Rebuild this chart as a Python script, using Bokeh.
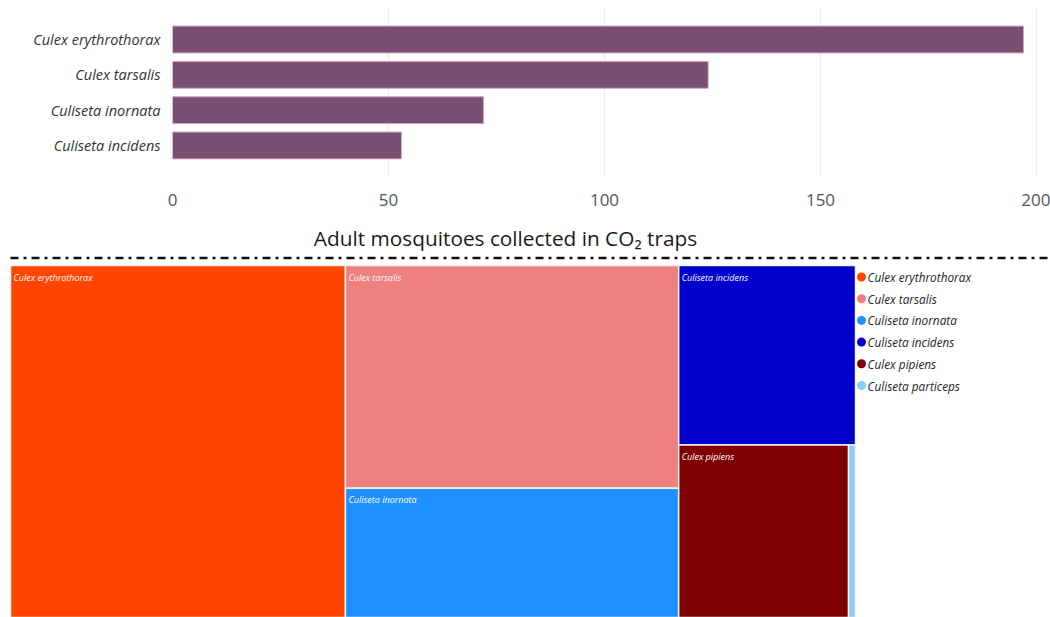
from bokeh.plotting import figure
from bokeh.models import FactorRange, Range1d, FixedTicker
from bokeh.layouts import column
from bokeh.embed import file_html
from bokeh.resources import INLINE
from bokeh.core.properties import value

# ---------------- data ----------------
bar_species = ["Culex erythrothorax", "Culex tarsalis", "Culiseta inornata", "Culiseta incidens"]
bar_counts = [197, 124, 72, 53]
x_ticks = [0, 50, 100, 150, 200]
title_text = "Adult mosquitoes collected in CO\u2082 traps"

tree_species = ["Culex erythrothorax", "Culex tarsalis", "Culiseta inornata",
                "Culiseta incidens", "Culex pipiens", "Culiseta particeps"]
tree_counts = [197, 124, 72, 53, 49, 2]
tree_colors = ["#FF4500", "#F08080", "#1E90FF", "#0000CD", "#800000", "#87CEFA"]
tree_nesting = [[0], [1, 2], [3, [4, 5]]]

FONT = value("Open Sans")

# ---------------- bar chart ----------------
p1 = figure(width=1050, height=215, output_backend="svg", toolbar_location=None,
            y_range=FactorRange(factors=bar_species[::-1], range_padding=0.35,
                                range_padding_units="absolute"),
            x_range=Range1d(0, 203.24),
            min_border_left=172, min_border_right=0, min_border_top=9, min_border_bottom=40)
p1.frame_align = False
p1.hbar(y=bar_species, right=bar_counts, height=0.76,
        fill_color="#7B4F71", line_color="#CFA9C6", line_width=1)
p1.outline_line_color = None
p1.ygrid.grid_line_color = None
p1.xgrid.grid_line_color = "#EDEBE9"
p1.xaxis.ticker = FixedTicker(ticks=x_ticks)
for ax in (p1.xaxis, p1.yaxis):
    ax.axis_line_color = None
    ax.major_tick_line_color = None
    ax.minor_tick_line_color = None
p1.xaxis.major_label_text_font = "Open Sans"
p1.xaxis.major_label_text_font_size = "17px"
p1.xaxis.major_label_text_color = "#555555"
p1.xaxis.major_label_standoff = 12
p1.yaxis.major_label_text_font = "Open Sans"
p1.yaxis.major_label_text_font_style = "italic"
p1.yaxis.major_label_text_font_size = "14.5px"
p1.yaxis.major_label_text_color = "#333333"
p1.yaxis.major_label_standoff = 6

# ---------------- title, separator, treemap ----------------
p2 = figure(width=1050, height=402, output_backend="svg", toolbar_location=None,
            x_range=Range1d(0, 1050), y_range=Range1d(617, 215),
            x_axis_type=None, y_axis_type=None,
            min_border_left=0, min_border_right=0, min_border_top=0, min_border_bottom=0)
p2.frame_align = False
p2.outline_line_color = None
p2.xgrid.grid_line_color = None
p2.ygrid.grid_line_color = None

p2.text(x=[505], y=[237], text=[title_text], text_align="center", text_baseline="middle",
        text_font=FONT, text_font_size="20.8px", text_color="#1a1a1a")
p2.line(x=[10, 1050], y=[257.5, 257.5], line_dash="8 5 3 5", line_width=2.5, line_color="#111111")


def node_total(node):
    return tree_counts[node] if isinstance(node, int) else sum(node_total(n) for n in node)


def layout(node, x0, y0, x1, y1, horizontal, out):
    if isinstance(node, int):
        out[node] = (x0, y0, x1, y1)
        return
    t = node_total(node)
    pos = x0 if horizontal else y0
    for child in node:
        frac = node_total(child) / t
        if horizontal:
            w = (x1 - x0) * frac
            layout(child, pos, y0, pos + w, y1, not horizontal, out)
            pos += w
        else:
            h = (y1 - y0) * frac
            layout(child, x0, pos, x1, pos + h, not horizontal, out)
            pos += h


rects = {}
layout(tree_nesting, 10, 265, 855, 617, True, rects)
order = list(range(len(tree_counts)))
left = [rects[i][0] for i in order]
top = [rects[i][1] for i in order]
right = [rects[i][2] for i in order]
bottom = [rects[i][3] for i in order]

p2.quad(left=left, right=right, top=top, bottom=bottom, fill_color=tree_colors,
        line_color="#F3F2F1", line_width=1.5)

lab_idx = [i for i in order if right[i] - left[i] > 40]
p2.text(x=[left[i] + 3 for i in lab_idx], y=[top[i] + 5 for i in lab_idx],
        text=[tree_species[i] for i in lab_idx], text_baseline="top", text_align="left",
        text_font=FONT, text_font_style="italic", text_font_size="9px", text_color="white")

# legend
leg_y = [276.5 + 21.7 * i for i in order]
p2.scatter(x=[861] * len(order), y=leg_y, size=9, fill_color=tree_colors, line_color=None)
p2.text(x=[867] * len(order), y=leg_y, text=tree_species, text_baseline="middle",
        text_align="left", text_font=FONT, text_font_style="italic", text_font_size="11.8px",
        text_color="#252423")

page = column(p1, p2, spacing=0)
open("out.html", "w").write(file_html(page, INLINE))
